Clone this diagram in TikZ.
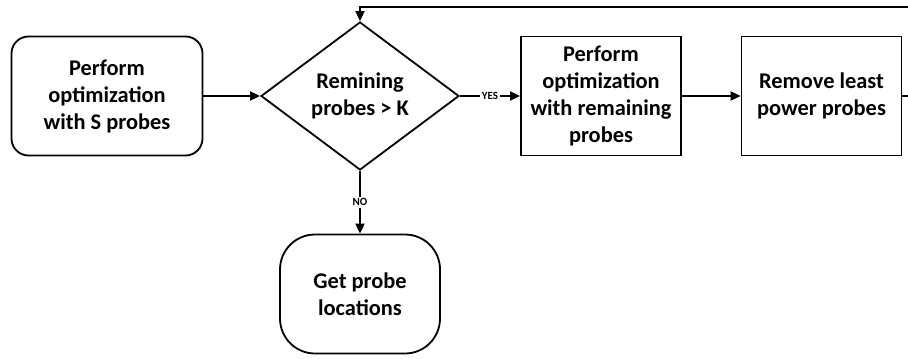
\documentclass[tikz,border=0pt]{standalone}
\usepackage{fontspec}
\setmainfont{Carlito}
\usetikzlibrary{arrows.meta,shapes.geometric,positioning}

\begin{document}
\begin{tikzpicture}[x=0.5pt, y=-0.5pt, on grid, line width=0.9pt, >={Triangle[length=5pt,width=4.5pt]},
        every node/.style={font=\fontsize{11.2}{13.5}\selectfont\bfseries, align=center},
        endbox/.style={draw, rounded corners=8.5pt, minimum width=95.5pt, minimum height=59.5pt},
        stopbox/.style={draw, rounded corners=17.5pt, minimum width=80pt, minimum height=59.5pt},
        procbox/.style={draw, minimum width=80pt, minimum height=59.5pt},
        decision/.style={draw, diamond, aspect=1.34, inner sep=0pt, minimum width=99pt, minimum height=74pt},
        answer/.style={font=\fontsize{5.5}{6}\selectfont\bfseries, fill=white, inner sep=1pt}]
                \useasboundingbox (0,0) rectangle (908,358);
                \clip (0,0) rectangle (908,358);

                \node[endbox]   (start)  at (107,96)                {Perform\\optimization\\with S probes};
                \node[decision] (test)   [right=126.5pt of start]   {Remining\\probes > K};
                \node[procbox]  (optim)  [right=120.5pt of test]    {Perform\\optimization\\with remaining\\probes};
                \node[procbox]  (remove) [right=110.25pt of optim]  {Remove least\\power probes};
                \node[stopbox]  (result) [below=99pt of test]       {Get probe\\locations};
                \coordinate     (back)   at (915,96);
                \coordinate     (loop)   at (915,7);

            \draw[->] (start) -- (test);
            \draw[->] (test) -- node[answer] {YES} (optim);
            \draw[->] (optim) -- (remove);
            \draw[->] (test) -- node[answer] {NO} (result);
            \draw[->] (remove) -- (back) -- (loop) -| (test);
        \end{tikzpicture}
\end{document}
